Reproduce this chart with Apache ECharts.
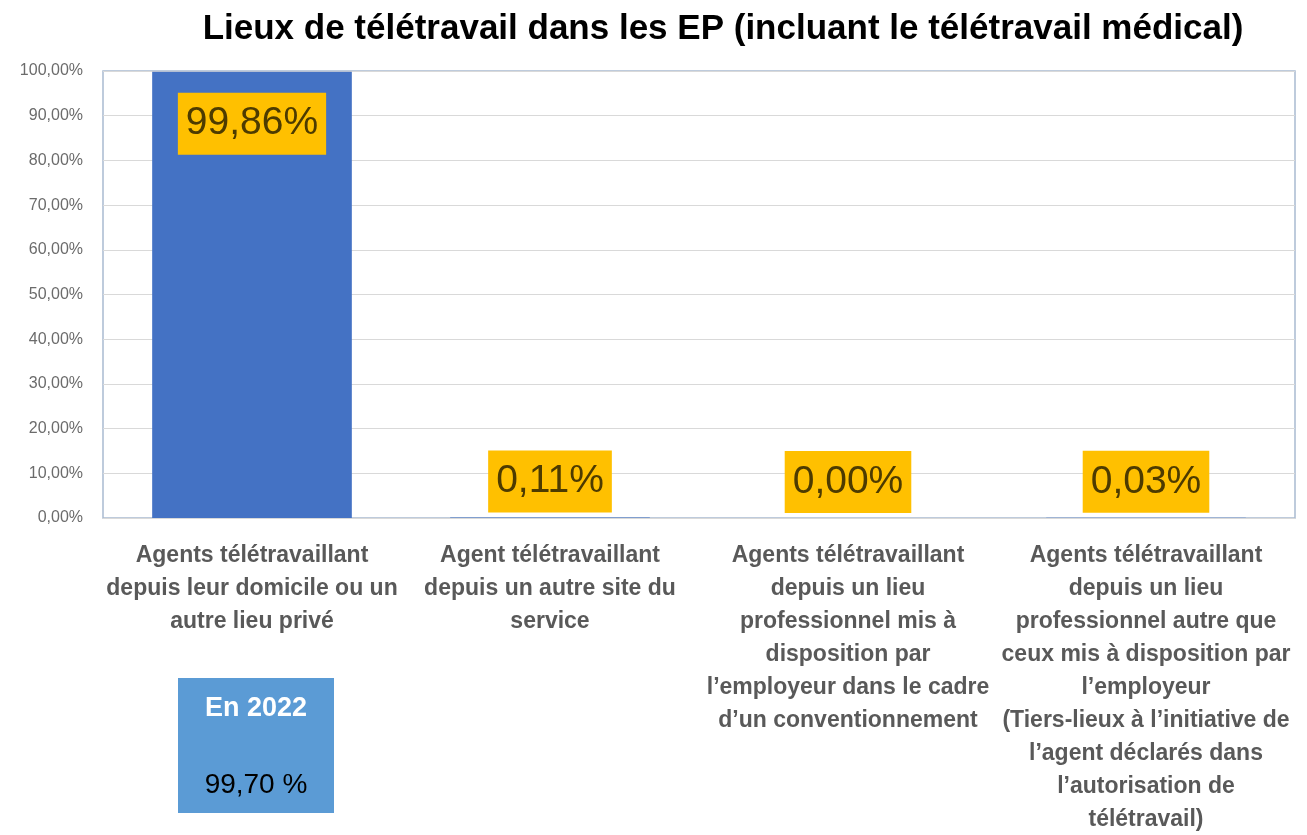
<!DOCTYPE html>
<html>
<head>
    <meta charset="utf-8">
    <title>Lieux de télétravail</title>
    <script src="https://cdn.jsdelivr.net/npm/echarts@6/dist/echarts.min.js"></script>
    <style>
        html, body { margin: 0; padding: 0; background: #fff; }
        #chart { width: 1307px; height: 835px; }
    </style>
</head>
<body>
<div id="chart"></div>
<script type="text/javascript">
    // catégories (axe X)
    var categories = [
        'Agents télétravaillant\ndepuis leur domicile ou un\nautre lieu privé',
        'Agent télétravaillant\ndepuis un autre site du\nservice',
        'Agents télétravaillant\ndepuis un lieu\nprofessionnel mis à\ndisposition par\nl’employeur dans le cadre\nd’un conventionnement',
        'Agents télétravaillant\ndepuis un lieu\nprofessionnel autre que\nceux mis à disposition par\nl’employeur\n(Tiers-lieux à l’initiative de\nl’agent déclarés dans\nl’autorisation de\ntélétravail)'
    ];
    // valeurs en %
    var values = [99.86, 0.11, 0.00, 0.03];
    // encadré 2022
    var boxTitle = 'En 2022';
    var boxValue = '99,70 %';

    function fr(v) {
        return v.toFixed(2).replace('.', ',') + '%';
    }

    var font = '"Liberation Sans", Arial, sans-serif';
    var myChart = echarts.init(document.getElementById('chart'));

    // la première barre a son étiquette à l'intérieur, en haut
    var barData = values.map(function (v, i) {
        if (i === 0) {
            return { value: v, label: { position: 'insideTop', distance: 21 } };
        }
        return v;
    });

    myChart.setOption({
        animation: false,
        textStyle: { fontFamily: font },
        title: {
            text: 'Lieux de télétravail dans les EP (incluant le télétravail médical)',
            left: 718,
            textAlign: 'center',
            top: 7,
            textStyle: { fontSize: 35, fontWeight: 'bold', color: '#000', fontFamily: font }
        },
        grid: {
            left: 103, right: 12, top: 71, bottom: 317,
            outerBoundsMode: 'none',
            containLabel: false,
            show: true,
            borderColor: '#a9bbd1',
            borderWidth: 1.5
        },
        xAxis: {
            type: 'category',
            data: categories,
            axisLine: { show: true, lineStyle: { color: '#d9d9d9' } },
            axisTick: { show: false },
            axisLabel: {
                interval: 0,
                margin: 21,
                fontSize: 23,
                lineHeight: 33,
                fontWeight: 'bold',
                color: '#595959'
            }
        },
        yAxis: {
            type: 'value',
            min: 0, max: 100, interval: 10,
            axisLine: { show: false },
            axisTick: { show: false },
            splitLine: { lineStyle: { color: '#d9d9d9', width: 1 } },
            axisLabel: {
                margin: 20,
                fontSize: 16,
                color: '#6b6b6b',
                formatter: function (v) { return fr(v); }
            }
        },
        series: [{
            type: 'bar',
            data: barData,
            barWidth: '67%',
            itemStyle: { color: '#4472c4' },
            label: {
                show: true,
                formatter: function (p) { return fr(p.value); },
                position: 'top',
                distance: 5,
                fontSize: 39,
                lineHeight: 40,
                color: '#4d3b00',
                backgroundColor: '#ffc000',
                padding: [11, 8, 11, 8]
            }
        }],
        graphic: [{
            type: 'group',
            left: 178,
            top: 678,
            children: [{
                type: 'rect',
                shape: { x: 0, y: 0, width: 156, height: 135 },
                style: { fill: '#5b9bd5' }
            }, {
                type: 'text',
                x: 78, y: 31,
                style: {
                    text: boxTitle, fill: '#fff', fontSize: 27, fontWeight: 'bold',
                    fontFamily: font, align: 'center', verticalAlign: 'middle'
                }
            }, {
                type: 'text',
                x: 78, y: 107,
                style: {
                    text: boxValue, fill: '#000', fontSize: 28,
                    fontFamily: font, align: 'center', verticalAlign: 'middle'
                }
            }]
        }]
    });
</script>
</body>
</html>
